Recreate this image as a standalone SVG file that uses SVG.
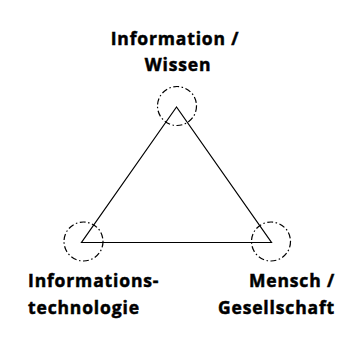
<svg xmlns="http://www.w3.org/2000/svg" width="350" height="350" viewBox="0 0 350 350">
<style>
.lbl{font-family:"Open Sans","Liberation Sans",sans-serif;font-weight:bold;font-size:17.5px;fill:#000;stroke:#000;stroke-width:0.5;letter-spacing:0.85px}
.ring{fill:none;stroke:#000;stroke-width:1.2;stroke-dasharray:6 2.5 1.5 2.5}
.edge{fill:none;stroke:#000;stroke-width:1.2}
</style>
<rect width="350" height="350" fill="#fff"/>
<g id="connectors">
<polygon class="edge" points="176.5,107 81.5,242.5 271.5,242.5"/>
</g>
<g id="node-top">
<circle class="ring" cx="177" cy="106" r="19.5"/>
<text class="lbl" x="175" y="45" text-anchor="middle">Information /</text>
<text class="lbl" x="178" y="71" text-anchor="middle">Wissen</text>
</g>
<g id="node-left">
<circle class="ring" cx="83.5" cy="241.5" r="19.5"/>
<text class="lbl" x="28" y="287">Informations-</text>
<text class="lbl" x="28" y="314">technologie</text>
</g>
<g id="node-right">
<circle class="ring" cx="271" cy="241.5" r="19.5"/>
<text class="lbl" x="335" y="287" text-anchor="end">Mensch /</text>
<text class="lbl" x="335" y="314" text-anchor="end">Gesellschaft</text>
</g>
</svg>
